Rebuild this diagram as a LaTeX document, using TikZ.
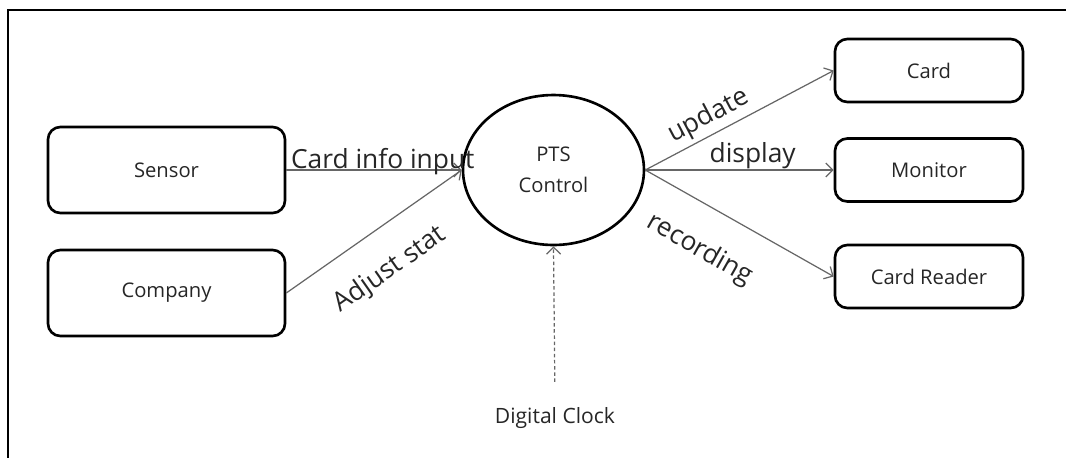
\documentclass[tikz,border=0pt]{standalone}
\usepackage{fontspec}
\setmainfont{Open Sans}
\usetikzlibrary{shapes.geometric, arrows.meta}
\tikzset{
    unitbox/.style={draw, line width=1.5pt, rounded corners=7pt,
        minimum width=4.74cm, minimum height=1.72cm, text=black!85,
        font=\fontsize{11.5}{14}\selectfont},
    sinkbox/.style={unitbox, minimum width=3.76cm, minimum height=1.26cm},
    flow/.style={draw=black!60, line width=.7pt,
        -{Straight Barb[length=4pt, width=8pt]}},
    flowlabel/.style={font=\fontsize{15}{17}\selectfont, text=black!85},
}

\begin{document}
\begin{tikzpicture}[x=0.02cm, y=-0.02cm]
        \useasboundingbox (0, 0) rectangle (1066, 458);
        \draw[line width=.8pt] (1066, 10) -| (8, 458); % Frame

        \node[unitbox] (sensor) at (166.5, 170) {Sensor};
        \node[unitbox] (company) at (166.5, 293) {Company};
        \node[draw, ellipse, line width=1.5pt, minimum width=3.62cm,
            minimum height=3cm, align=center, text=black!85,
            font=\fontsize{11.5}{17.5}\selectfont]
            (pts) at (553.5, 170) {PTS\\Control};
        \node[sinkbox] (card) at (929, 70.5) {Card};
        \node[sinkbox] (monitor) at (929, 170) {Monitor};
        \node[sinkbox] (reader) at (929, 276.5) {Card Reader};
        \node[text=black!85, font=\fontsize{12}{14}\selectfont]
            (clock) at (555, 418) {Digital Clock};

        \draw[flow] (sensor.east) -- (pts.west)
            node[flowlabel, pos=.55, anchor=base, yshift=1pt]
            {Card info input};
        \draw[flow] (company.east) -- (pts.west)
            node[flowlabel, pos=.46, sloped, below=12pt] {Adjust stat};
        \draw[flow] (pts.east) -- (card.west)
            node[flowlabel, pos=.38, sloped, above=-1pt] {update};
        \draw[flow] (pts.east) -- (monitor.west)
            node[flowlabel, pos=.57, above=-3pt] {display};
        \draw[flow] (pts.east) -- (reader.west)
            node[flowlabel, pos=.4, sloped, below=13pt] {recording};
        \draw[flow, dash pattern=on 2pt off 1.5pt, shorten <=11pt]
            (clock.north) -- (pts.south);
    \end{tikzpicture}
\end{document}
